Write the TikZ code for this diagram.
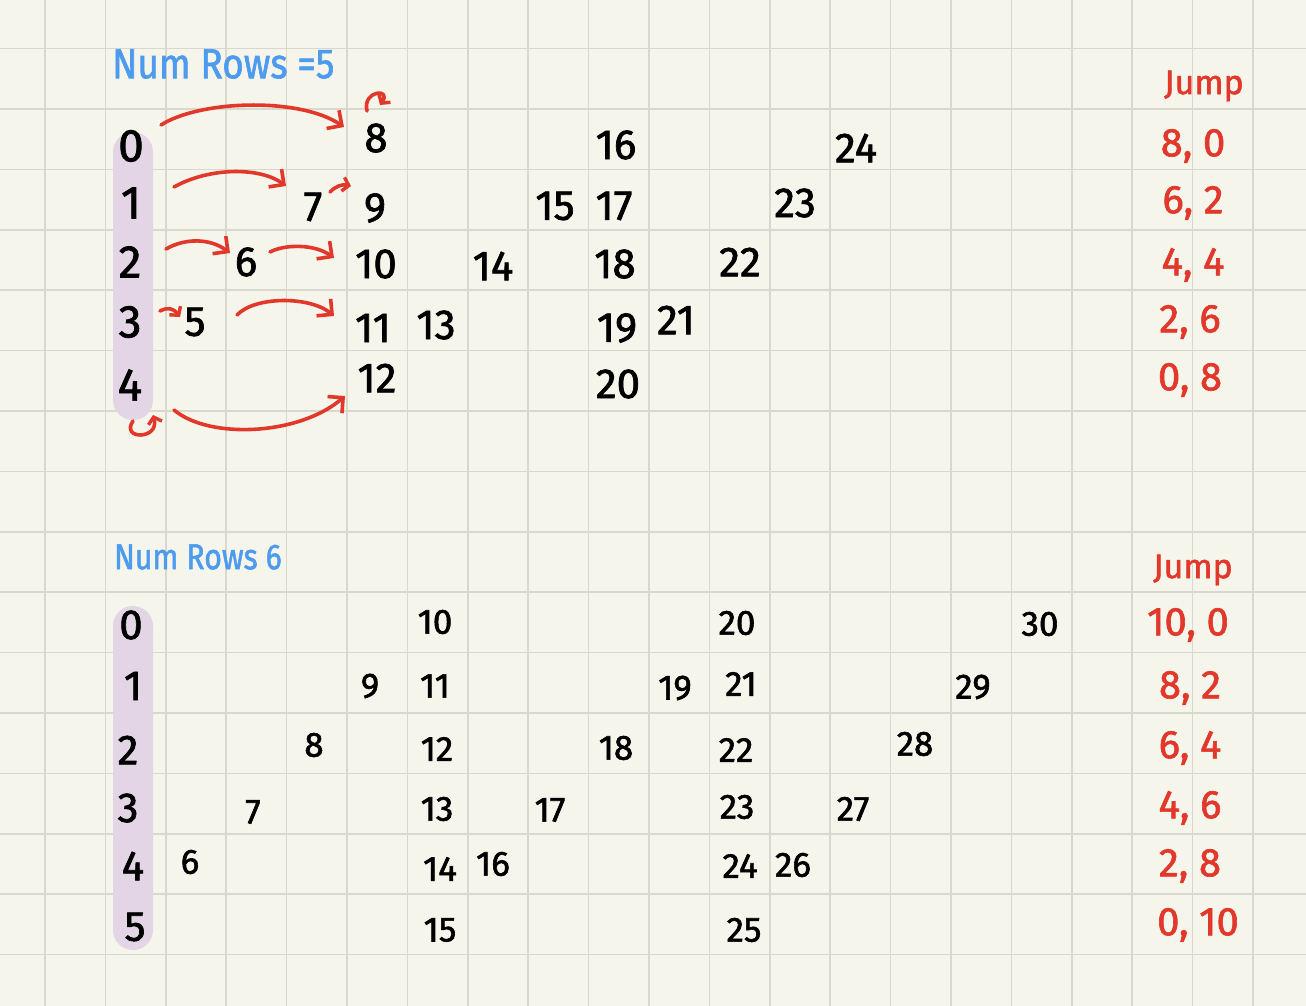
\documentclass[tikz,border=0pt]{standalone}
\usepackage{fontspec}
\setmainfont{Fira Sans}
\newfontfamily\hand{Fira Sans}[FakeBold=1.6]
\usetikzlibrary{arrows.meta}
\definecolor{paper}{HTML}{F6F5EB}
\definecolor{gridc}{HTML}{D8D8CD}
\definecolor{pill}{HTML}{E3D5E6}
\definecolor{pen}{HTML}{E2382B}
\definecolor{bluepen}{HTML}{4C9BEF}
\tikzset{
  num/.style={inner sep=0pt, font=\hand\fontsize{42}{42}\selectfont},
  snum/.style={inner sep=0pt, font=\hand\fontsize{35}{35}\selectfont},
  lbl/.style={inner sep=0pt, font=\hand\fontsize{46}{46}\selectfont},
  slbl/.style={inner sep=0pt, font=\hand\fontsize{42}{42}\selectfont},
  jmp/.style={inner sep=0pt, text=pen, font=\hand\fontsize{40}{40}\selectfont},
  title/.style={inner sep=0pt, text=bluepen, font=\hand\fontsize{42}{42}\selectfont},
  jtitle/.style={inner sep=0pt, text=pen, font=\hand\fontsize{34}{34}\selectfont},
  arr/.style={draw=pen, line width=3.6pt, line cap=round, line join=round,
    -{Straight Barb[length=11pt,width=22pt,line width=3.6pt]}},
  curl/.style={arr, -{Straight Barb[length=6pt,width=14pt,line width=3.4pt]}},
}
\begin{document}
\begin{tikzpicture}[x=1pt,y=-1pt]
\useasboundingbox (0,0) rectangle (1306,1006);
\fill[paper] (0,0) rectangle (1306,1006);
% grid
\foreach \i in {0,...,20} \draw[gridc, line width=1.6pt] ({45+60.4*\i},0) -- ({45+60.4*\i},1006);
\foreach \j in {0,...,15} \draw[gridc, line width=1.6pt] (0,{48.5+60.4*\j}) -- (1306,{48.5+60.4*\j});
% pills
\fill[pill, rounded corners=20pt] (113,132) rectangle (153,420);
\fill[pill, rounded corners=20pt] (113,606) rectangle (153,950);

% ===== upper =====
\node[title, anchor=west] (t1) at (112,64) {\scalebox{0.88}[1]{Num Rows =5}};
\node[jtitle] (j1) at (1204,86) {Jump};
\node[lbl] (r0) at (131,146) {0};
\node[lbl] (r1) at (131,203) {1};
\node[lbl] (r2) at (130,262) {2};
\node[lbl] (r3) at (130,322) {3};
\node[lbl] (r4) at (130,385) {4};

\node[num] (u8) at (376,138) {8};
\node[num] (u16) at (616,145) {16};
\node[num] (u24) at (856,148) {24};
\node[num] (u7) at (313,207) {7};
\node[num] (u9) at (375,208) {9};
\node[num] (u15) at (555,206) {15};
\node[num] (u17) at (614,206) {17};
\node[num] (u23) at (795,203) {23};
\node[num] (u6) at (246,262) {6};
\node[num] (u10) at (376,264) {10};
\node[num] (u14) at (493,266) {14};
\node[num] (u18) at (615,264) {18};
\node[num] (u22) at (740,262) {22};
\node[num] (u5) at (195,322) {5};
\node[num] (u11) at (373,328) {11};
\node[num] (u13) at (436,325) {13};
\node[num] (u19) at (617,328) {19};
\node[num] (u21) at (676,320) {21};
\node[num] (u12) at (377,378) {12};
\node[num] (u20) at (618,384) {20};

\node[jmp] (ja) at (1193,146) {8, 0};
\node[jmp] (jb) at (1193,203) {6, 2};
\node[jmp] (jc) at (1193,265) {4, 4};
\node[jmp] (jd) at (1190,322) {2, 6};
\node[jmp] (je) at (1190,380) {0, 8};

% arrow endpoints
\coordinate (a0s) at (161,125);
\coordinate (a0e) at (344,127);
\coordinate (a1s) at (174,187);
\coordinate (a1e) at (286,186);
\coordinate (a7s) at (330,192);
\coordinate (a7e) at (351,186);
\coordinate (a2s) at (166,249);
\coordinate (a2e) at (230,253);
\coordinate (a6s) at (270,252);
\coordinate (a6e) at (334,258);
\coordinate (a3s) at (160,311);
\coordinate (a3e) at (180,317);
\coordinate (a5s) at (237,315);
\coordinate (a5e) at (334,316);
\coordinate (a4s) at (174,410);
\coordinate (a4e) at (345,396);
\coordinate (c8s) at (367,111);
\coordinate (c8e) at (380,105);
\coordinate (c4s) at (133,421);
\coordinate (c4e) at (153,415);

\draw[arr] (a0s) .. controls (200,100) and (300,97) .. (a0e);
\draw[arr] (a1s) .. controls (210,167) and (260,167) .. (a1e);
\draw[curl] (a7s) .. controls (336,186) and (342,184) .. (a7e);
\draw[arr] (a2s) .. controls (185,238) and (210,238) .. (a2e);
\draw[arr] (a6s) .. controls (285,244) and (315,244) .. (a6e);
\draw[curl] (a3s) .. controls (168,307) and (173,308) .. (a3e);
\draw[arr] (a5s) .. controls (255,296) and (310,296) .. (a5e);
\draw[arr] (a4s) .. controls (210,440) and (300,435) .. (a4e);
\draw[curl] (c8s) .. controls (362,90) and (392,88) .. (c8e);
\draw[curl] (c4s) .. controls (120,440) and (160,440) .. (c4e);

% ===== lower =====
\node[title, anchor=west] (t2) at (114,557) {\fontsize{36}{36}\selectfont\scalebox{0.84}[1]{Num Rows 6}};
\node[jtitle] (j2) at (1193,570) {Jump};
\node[slbl] (s0) at (131,625) {0};
\node[slbl] (s1) at (133,686) {1};
\node[slbl] (s2) at (128,750) {2};
\node[slbl] (s3) at (128,808) {3};
\node[slbl] (s4) at (133,866) {4};
\node[slbl] (s5) at (135,927) {5};

\node[snum] (l10) at (435,622) {10};
\node[snum] (l20) at (737,623) {20};
\node[snum] (l30) at (1040,624) {30};
\node[snum] (l9) at (370,686) {9};
\node[snum] (l11) at (435,686) {11};
\node[snum] (l19) at (675,688) {19};
\node[snum] (l21) at (741,684) {21};
\node[snum] (l29) at (973,687) {29};
\node[snum] (l8) at (314,745) {8};
\node[snum] (l12) at (437,749) {12};
\node[snum] (l18) at (616,748) {18};
\node[snum] (l22) at (736,750) {22};
\node[snum] (l28) at (915,744) {28};
\node[snum] (l7) at (253,812) {7};
\node[snum] (l13) at (437,809) {13};
\node[snum] (l17) at (550,810) {17};
\node[snum] (l23) at (737,807) {23};
\node[snum] (l27) at (853,809) {27};
\node[snum] (l6) at (190,862) {6};
\node[snum] (l14) at (440,869) {14};
\node[snum] (l16) at (493,864) {16};
\node[snum] (l24) at (740,866) {24};
\node[snum] (l26) at (793,865) {26};
\node[snum] (l15) at (440,930) {15};
\node[snum] (l25) at (744,930) {25};

\node[jmp] (ka) at (1188,625) {10, 0};
\node[jmp] (kb) at (1190,688) {8, 2};
\node[jmp] (kc) at (1190,748) {6, 4};
\node[jmp] (kd) at (1190,808) {4, 6};
\node[jmp] (ke) at (1190,866) {2, 8};
\node[jmp] (kf) at (1198,925) {0, 10};
\end{tikzpicture}
\end{document}
